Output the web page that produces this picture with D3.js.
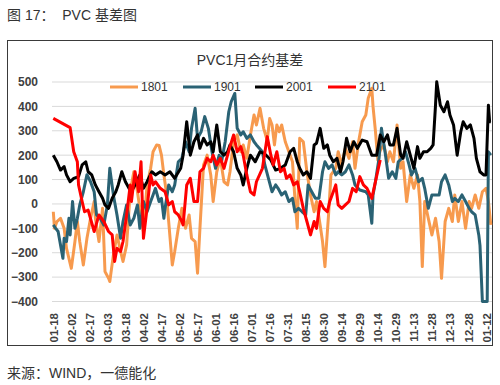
<!DOCTYPE html>
<html>
<head>
<meta charset="utf-8">
<script src="https://cdn.jsdelivr.net/npm/d3@7"></script>
<style>
  body { margin: 0; background: #fff; }
  svg { display: block; }
  text { font-family: "Liberation Sans", Arial, "Noto Sans CJK SC", sans-serif; }
</style>
</head>
<body>
<svg id="chart" width="500" height="385"></svg>
<script>
// series are [day offset from 01-18, basis value]
var seriesNames = ["1801", "1901", "2001", "2101"];
var seriesColors = ["#F79A4E", "#2A6274", "#000000", "#FF0000"];
var yTicks = [500, 400, 300, 200, 100, 0, -100, -200, -300, -400];
var tickEvery = 15; // days between x labels
var tickCount = 25;

var s1801 = [[0,-32],[1,-100],[3,-72],[6,-59],[9,-100],[11,-182],[15,-264],[18,-154],[20,-72],[22,-154],
  [25,-250],[28,-141],[31,-59],[34,10],[35,-59],[38,-154],[41,-18],[43,-277],[46,-305],[47,-318],
  [50,-209],[53,-127],[56,-195],[58,-236],[61,-168],[64,50],[67,132],[70,50],[72,-18],[75,-113],
  [78,78],[81,146],[83,214],[86,242],[88,240],[90,200],[92,119],[94,50],[96,-72],[99,-250],
  [101,-195],[104,-100],[107,-18],[110,-100],[113,-45],[115,-141],[118,-154],[120,-284],[122,-100],[125,160],
  [128,200],[131,119],[133,10],[136,132],[139,187],[142,91],[145,78],[147,132],[150,255],[153,283],
  [156,214],[158,242],[161,187],[164,283],[167,365],[169,324],[172,392],[175,310],[178,260],[180,350],
  [182,324],[184,242],[186,324],[188,296],[190,324],[193,255],[196,214],[199,173],[201,23],[203,-100],
  [205,269],[208,255],[211,132],[214,37],[217,-32],[219,10],[222,-86],[224,-154],[226,-257],[229,-45],
  [231,119],[235,146],[237,214],[240,160],[243,228],[246,187],[249,255],[251,146],[254,255],[257,337],
  [260,365],[262,433],[265,474],[266,400],[268,300],[270,180],[272,220],[275,242],[278,173],[280,214],
  [283,173],[286,324],[289,146],[291,173],[294,10],[297,119],[300,64],[303,119],[305,10],[307,-257],
  [309,10],[312,-59],[315,-127],[318,-59],[321,-154],[323,-305],[326,-72],[329,-18],[332,-72],[334,37],
  [337,-72],[340,10],[343,-100],[346,10],[348,-18],[351,37],[354,-18],[357,50],[360,64],[362,10],[364,-86]];

var s1901 = [[0,-86],[2,-100],[4,-113],[6,-168],[8,-223],[9,-141],[11,-154],[13,-59],[14,-127],[16,10],
  [18,-100],[20,-59],[22,-4],[25,50],[28,120],[31,91],[34,50],[36,-45],[39,-59],[42,-86],
  [45,-4],[47,146],[50,37],[53,-45],[56,-141],[58,-72],[61,-4],[64,-86],[67,-59],[70,-4],
  [72,-100],[75,10],[78,-32],[81,10],[83,37],[85,64],[88,10],[90,23],[92,-59],[93,-18],
  [96,78],[99,50],[101,78],[104,173],[107,187],[110,255],[113,214],[115,310],[118,392],[120,269],
  [123,296],[126,358],[129,310],[132,214],[135,146],[138,200],[140,173],[143,255],[146,378],[148,419],
  [151,453],[153,310],[156,283],[158,296],[161,269],[164,283],[167,255],[169,242],[174,214],[176,160],
  [179,105],[182,50],[185,78],[187,64],[190,37],[193,50],[196,10],[199,23],[201,-32],[204,-18],
  [207,-32],[210,-45],[212,78],[215,50],[218,23],[221,23],[224,132],[226,173],[229,146],[232,160],
  [235,119],[237,132],[240,119],[243,132],[246,160],[249,119],[251,78],[255,57],[260,50],[262,37],
  [265,-79],[266,37],[268,91],[271,187],[273,310],[276,214],[279,105],[282,132],[285,105],[287,173],
  [290,187],[293,214],[296,160],[298,119],[301,146],[304,91],[307,105],[309,64],[312,-18],[315,37],
  [318,37],[321,37],[323,91],[326,119],[329,78],[332,10],[334,23],[337,10],[340,37],[343,10],
  [346,-18],[348,-32],[351,-45],[354,-127],[355,-170],[357,-400],[361,-400],[362,214],[364,200]];

var s2001 = [[0,200],[3,173],[6,139],[9,153],[11,119],[14,91],[17,105],[21,112],[24,160],[27,173],
  [29,132],[32,119],[35,78],[38,50],[41,23],[43,-4],[46,-18],[49,23],[52,50],[54,78],
  [57,132],[60,91],[63,64],[65,50],[68,78],[72,119],[75,64],[78,91],[82,132],[85,119],
  [89,132],[93,119],[97,132],[101,105],[106,146],[108,200],[111,337],[114,200],[117,255],[120,283],
  [122,228],[125,269],[128,242],[131,255],[133,214],[136,324],[139,214],[142,200],[145,214],[147,242],
  [150,214],[153,146],[156,119],[158,78],[161,146],[164,200],[168,173],[172,214],[176,205],[181,180],
  [185,139],[189,146],[193,160],[197,214],[200,228],[203,173],[205,146],[208,119],[211,132],[214,105],
  [217,242],[219,249],[222,310],[225,228],[228,242],[230,200],[233,173],[236,187],[239,132],[241,173],
  [244,269],[247,214],[250,255],[253,228],[257,262],[261,255],[265,200],[269,200],[272,283],[275,255],
  [278,283],[280,242],[283,242],[286,310],[289,200],[291,187],[294,255],[297,200],[300,146],[303,235],
  [305,187],[308,214],[311,214],[314,228],[316,242],[318,405],[319,501],[322,405],[325,378],[328,419],
  [330,365],[333,324],[336,200],[339,296],[341,337],[344,310],[347,324],[350,269],[352,187],[355,132],
  [358,119],[360,119],[362,405],[363,337],[364,337]];

var s2101 = [[0,351],[14,313],[17,214],[20,173],[21,78],[24,10],[26,-32],[29,-25],[34,-113],[38,-45],
  [42,-72],[46,-113],[49,-127],[51,-236],[53,-182],[56,-195],[58,-154],[61,-45],[64,78],[65,10],
  [68,132],[71,50],[73,173],[75,-141],[78,-18],[81,119],[83,78],[85,91],[89,64],[93,50],
  [96,-4],[99,10],[101,-32],[104,-45],[107,-72],[108,-86],[111,78],[114,105],[117,10],[120,10],
  [122,132],[125,146],[128,187],[131,173],[133,200],[136,160],[139,187],[142,146],[145,200],[147,235],
  [150,283],[153,214],[156,235],[158,200],[161,119],[164,50],[167,37],[169,91],[174,146],[178,276],
  [181,200],[183,160],[186,214],[189,132],[192,146],[194,105],[197,119],[200,78],[203,91],[205,50],
  [208,-18],[211,-72],[214,-127],[217,-72],[219,-100],[222,10],[225,-18],[228,-32],[230,10],[235,78],
  [237,-4],[240,-18],[243,-4],[246,10],[249,64],[252,50],[255,112],[258,78],[261,64],[265,23],
  [268,91],[272,180]];

var allSeries = [s1801, s1901, s2001, s2101];

var svg = d3.select("#chart");
var START = new Date(2020, 0, 18);
var dayToDate = d => d3.timeDay.offset(START, d);

var x = d3.scaleTime().domain([START, dayToDate(360)]).range([53.3, 486]);
var y = d3.scaleLinear().domain([-400, 500]).range([301.5, 82]);

// caption above and below the frame
svg.append("text").attr("x", 7).attr("y", 20)
    .style("font-size", "14px").style("fill", "#333")
    .attr("xml:space", "preserve")
    .text("图 17：  PVC 基差图");

svg.append("text").attr("x", 7).attr("y", 378)
    .style("font-size", "14px").style("fill", "#333")
    .text("来源：WIND，一德能化");

// chart frame
svg.append("rect").attr("x", 7.5).attr("y", 40.5).attr("width", 485).attr("height", 305)
    .attr("fill", "none").attr("stroke", "#3a3a3a").attr("stroke-width", 1);

svg.append("text").attr("x", 250).attr("y", 65).attr("text-anchor", "middle")
    .style("font-size", "14px").style("fill", "#333")
    .text("PVC1月合约基差");

// grid
svg.append("g").attr("class", "grid")
    .selectAll("line").data(yTicks).join("line")
    .attr("x1", 52).attr("x2", 492)
    .attr("y1", d => y(d)).attr("y2", d => y(d))
    .attr("stroke", "#d9d9d9").attr("stroke-width", 1);

// y axis
var yAxis = svg.append("g").attr("transform", "translate(52,0)")
    .call(d3.axisLeft(y).tickValues(yTicks).tickSize(0).tickPadding(14));
yAxis.select(".domain").remove();
yAxis.selectAll("text")
    .style("font-family", "'Liberation Sans', Arial, sans-serif")
    .style("font-size", "12px").style("font-weight", "bold").style("fill", "#404040");

// x axis, one label every 15 days
var tickDates = d3.range(tickCount).map(i => dayToDate(i * tickEvery));
var xAxis = svg.append("g").attr("transform", "translate(0,311)")
    .call(d3.axisBottom(x).tickValues(tickDates).tickSize(0).tickFormat(d3.timeFormat("%m-%d")));
xAxis.select(".domain").remove();
xAxis.selectAll("text")
    .attr("transform", "rotate(-90)")
    .attr("text-anchor", "end")
    .attr("x", -2).attr("y", 0).attr("dy", "0.35em")
    .style("font-family", "'Liberation Sans', Arial, sans-serif")
    .style("font-size", "11.5px").style("font-weight", "bold").style("fill", "#404040");

// lines
var line = d3.line()
    .x(d => x(dayToDate(d[0])))
    .y(d => y(d[1]));

svg.append("g").selectAll("path").data(allSeries).join("path")
    .attr("d", line)
    .attr("fill", "none")
    .attr("stroke", (d, i) => seriesColors[i])
    .attr("stroke-width", 3)
    .attr("stroke-linejoin", "round");

// legend
var legendX = [110, 183, 255, 328];
var legend = svg.append("g").selectAll("g").data(seriesNames).join("g")
    .attr("transform", (d, i) => "translate(" + legendX[i] + ",87)");
legend.append("line").attr("x1", 0).attr("x2", 28)
    .attr("stroke", (d, i) => seriesColors[i]).attr("stroke-width", 3);
legend.append("text").attr("x", 31).attr("dy", "0.35em")
    .style("font-size", "12px").style("fill", "#333")
    .text(d => d);
</script>
</body>
</html>
